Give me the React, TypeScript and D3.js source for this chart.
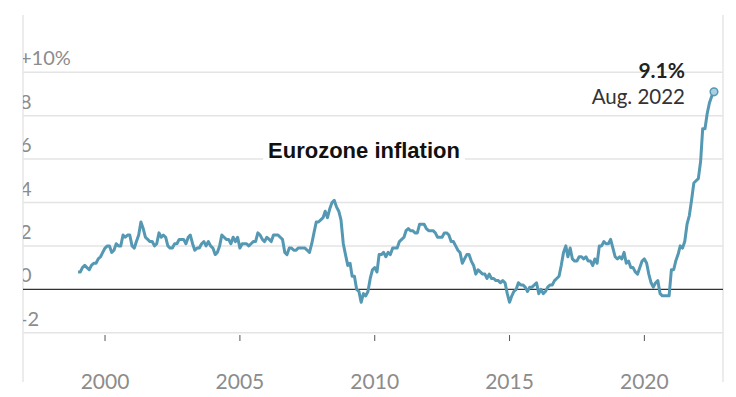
import { useEffect, useRef } from 'react';
import * as d3 from 'd3';

// Eurozone HICP, annual rate of change (%), monthly, Jan 1999 - Aug 2022
const startYear = 1999;
const inflation: number[] = [
  // 1999
  0.8, 0.8, 1.0, 1.1, 1.0, 0.9, 1.1, 1.2, 1.2, 1.4, 1.5, 1.7,
  // 2000
  1.9, 2.0, 2.0, 1.7, 1.8, 2.1, 2.0, 2.0, 2.5, 2.4, 2.5, 2.5,
  // 2001
  2.0, 1.9, 2.2, 2.5, 3.1, 2.8, 2.4, 2.3, 2.2, 2.2, 2.0, 2.1,
  // 2002
  2.6, 2.4, 2.5, 2.4, 2.0, 1.9, 1.9, 2.1, 2.1, 2.3, 2.3, 2.3,
  // 2003
  2.1, 2.4, 2.5, 2.1, 1.8, 1.9, 1.9, 2.1, 2.2, 2.0, 2.2, 2.0,
  // 2004
  1.9, 1.6, 1.7, 2.0, 2.5, 2.4, 2.3, 2.3, 2.1, 2.4, 2.2, 2.4,
  // 2005
  1.9, 2.1, 2.1, 2.1, 2.0, 2.1, 2.2, 2.2, 2.6, 2.5, 2.3, 2.2,
  // 2006
  2.4, 2.3, 2.2, 2.5, 2.5, 2.5, 2.4, 2.3, 1.7, 1.6, 1.9, 1.9,
  // 2007
  1.8, 1.8, 1.9, 1.9, 1.9, 1.9, 1.8, 1.7, 2.1, 2.6, 3.1, 3.1,
  // 2008
  3.2, 3.3, 3.6, 3.3, 3.7, 4.0, 4.1, 3.8, 3.6, 3.2, 2.1, 1.6,
  // 2009
  1.1, 1.2, 0.6, 0.6, 0.0, -0.1, -0.6, -0.2, -0.3, -0.1, 0.5, 0.9,
  // 2010
  1.0, 0.8, 1.6, 1.6, 1.7, 1.5, 1.7, 1.6, 1.9, 1.9, 1.9, 2.2,
  // 2011
  2.3, 2.4, 2.7, 2.8, 2.7, 2.7, 2.6, 2.6, 3.0, 3.0, 3.0, 2.8,
  // 2012
  2.7, 2.7, 2.7, 2.6, 2.4, 2.4, 2.4, 2.6, 2.6, 2.5, 2.2, 2.2,
  // 2013
  2.0, 1.8, 1.7, 1.2, 1.4, 1.6, 1.6, 1.3, 1.1, 0.7, 0.9, 0.8,
  // 2014
  0.7, 0.7, 0.5, 0.7, 0.5, 0.5, 0.4, 0.4, 0.3, 0.4, 0.3, -0.2,
  // 2015
  -0.6, -0.3, -0.1, 0.0, 0.3, 0.2, 0.2, 0.1, -0.1, 0.1, 0.1, 0.2,
  // 2016
  0.3, -0.2, 0.0, -0.2, -0.1, 0.1, 0.2, 0.2, 0.4, 0.5, 0.6, 1.1,
  // 2017
  1.7, 2.0, 1.5, 1.9, 1.4, 1.3, 1.3, 1.5, 1.5, 1.4, 1.5, 1.3,
  // 2018
  1.3, 1.1, 1.4, 1.2, 2.0, 2.0, 2.2, 2.1, 2.1, 2.3, 1.9, 1.5,
  // 2019
  1.4, 1.5, 1.4, 1.7, 1.2, 1.3, 1.0, 1.0, 0.8, 0.7, 1.0, 1.3,
  // 2020
  1.4, 1.2, 0.7, 0.3, 0.1, 0.3, 0.4, -0.2, -0.3, -0.3, -0.3, -0.3,
  // 2021
  0.9, 0.9, 1.3, 1.6, 2.0, 1.9, 2.2, 3.0, 3.4, 4.1, 4.9, 5.0,
  // 2022
  5.1, 5.9, 7.4, 7.4, 8.1, 8.6, 8.9, 9.1,
];

const yTicks = [-2, 0, 2, 4, 6, 8, 10];
const yTickLabels = ['-2', '0', '2', '4', '6', '8', '+10%'];
const xTickYears = [2000, 2005, 2010, 2015, 2020];

const title = 'Eurozone inflation';
const peakValue = '9.1%';
const peakDate = 'Aug. 2022';

const App = () => {
  const svgRef = useRef<SVGSVGElement | null>(null);

  useEffect(() => {
    if (!svgRef.current) return;
    const width = 736;
    const height = 397;
    const left = 23;
    const right = 723;

    const data = inflation.map((v, i) => ({
      date: new Date(startYear + Math.floor(i / 12), i % 12, 1),
      value: v,
    }));

    const x = d3
      .scaleTime()
      .domain([new Date(1996, 11, 16), new Date(2022, 11, 1)])
      .range([left, right]);
    const y = d3.scaleLinear().domain([-2, 10]).range([332.7, 72.3]);

    const svg = d3.select(svgRef.current);
    svg.selectAll('*').remove();
    svg.attr('width', width).attr('height', height);

    svg.append('rect').attr('width', width).attr('height', height).attr('fill', '#fff');

    // horizontal gridlines
    svg
      .append('g')
      .selectAll('line')
      .data(yTicks.filter((d) => d !== 0))
      .join('line')
      .attr('x1', left)
      .attr('x2', right)
      .attr('y1', (d) => y(d))
      .attr('y2', (d) => y(d))
      .attr('stroke', '#e4e4e4')
      .attr('stroke-width', 1.5);

    // side frame lines
    svg
      .append('g')
      .selectAll('line')
      .data([left, right])
      .join('line')
      .attr('x1', (d) => d)
      .attr('x2', (d) => d)
      .attr('y1', 15)
      .attr('y2', 382)
      .attr('stroke', '#e6e6e6')
      .attr('stroke-width', 1.5);

    // y labels (clipped at the left frame like the original)
    svg.append('clipPath').attr('id', 'yclip').append('rect')
      .attr('x', left).attr('y', 0).attr('width', width).attr('height', height);
    svg
      .append('g')
      .attr('clip-path', 'url(#yclip)')
      .selectAll('text')
      .data(yTicks)
      .join('text')
      .attr('x', 20)
      .attr('y', (d) => y(d) - 7)
      .attr('font-family', 'Lato, sans-serif')
      .attr('font-size', 20)
      .attr('fill', '#8c8c8c')
      .text((_, i) => yTickLabels[i]);

    // x ticks
    const xg = svg.append('g');
    xg.selectAll('line')
      .data(xTickYears)
      .join('line')
      .attr('x1', (d) => x(new Date(d, 0, 1)))
      .attr('x2', (d) => x(new Date(d, 0, 1)))
      .attr('y1', 335)
      .attr('y2', 341)
      .attr('stroke', '#555')
      .attr('stroke-width', 1);
    xg.selectAll('text')
      .data(xTickYears)
      .join('text')
      .attr('x', (d) => x(new Date(d, 0, 1)))
      .attr('y', 389)
      .attr('text-anchor', 'middle')
      .attr('font-family', 'Lato, sans-serif')
      .attr('font-size', 21)
      .attr('fill', '#8c8c8c')
      .text((d) => String(d));

    // zero line
    svg
      .append('line')
      .attr('x1', left)
      .attr('x2', right)
      .attr('y1', y(0))
      .attr('y2', y(0))
      .attr('stroke', '#333')
      .attr('stroke-width', 1.3);

    // title with white backing over the gridline
    const tg = svg.append('g');
    const tBack = tg.append('rect').attr('fill', '#fff');
    const t = tg
      .append('text')
      .attr('x', 364)
      .attr('y', 158)
      .attr('text-anchor', 'middle')
      .attr('font-family', '"Liberation Sans", Arial, sans-serif')
      .attr('font-weight', 'bold')
      .attr('font-size', 22)
      .attr('fill', '#111')
      .text(title);
    const bb = (t.node() as SVGTextElement).getBBox();
    tBack
      .attr('x', bb.x - 5)
      .attr('y', bb.y)
      .attr('width', bb.width + 10)
      .attr('height', bb.height + 4);

    // line
    const line = d3
      .line<{ date: Date; value: number }>()
      .x((d) => x(d.date))
      .y((d) => y(d.value));
    svg
      .append('path')
      .datum(data)
      .attr('fill', 'none')
      .attr('stroke', '#5498b3')
      .attr('stroke-width', 3)
      .attr('stroke-linejoin', 'round')
      .attr('d', line);

    // end point + annotation
    const last = data[data.length - 1];
    svg
      .append('circle')
      .attr('cx', x(last.date))
      .attr('cy', y(last.value))
      .attr('r', 3.8)
      .attr('fill', '#a9d0df')
      .attr('stroke', '#5498b3')
      .attr('stroke-width', 1.5);

    svg
      .append('text')
      .attr('x', 685)
      .attr('y', 78)
      .attr('text-anchor', 'end')
      .attr('font-family', 'Lato, sans-serif')
      .attr('font-weight', 'bold')
      .attr('font-size', 21)
      .attr('fill', '#222')
      .text(peakValue);
    svg
      .append('text')
      .attr('x', 685)
      .attr('y', 104)
      .attr('text-anchor', 'end')
      .attr('font-family', 'Lato, sans-serif')
      .attr('font-size', 20.5)
      .attr('fill', '#333')
      .text(peakDate);
  }, []);

  return (
    <div style={{ position: 'absolute', left: 0, top: 0 }}>
      <svg ref={svgRef}></svg>
    </div>
  );
};

export default App;
